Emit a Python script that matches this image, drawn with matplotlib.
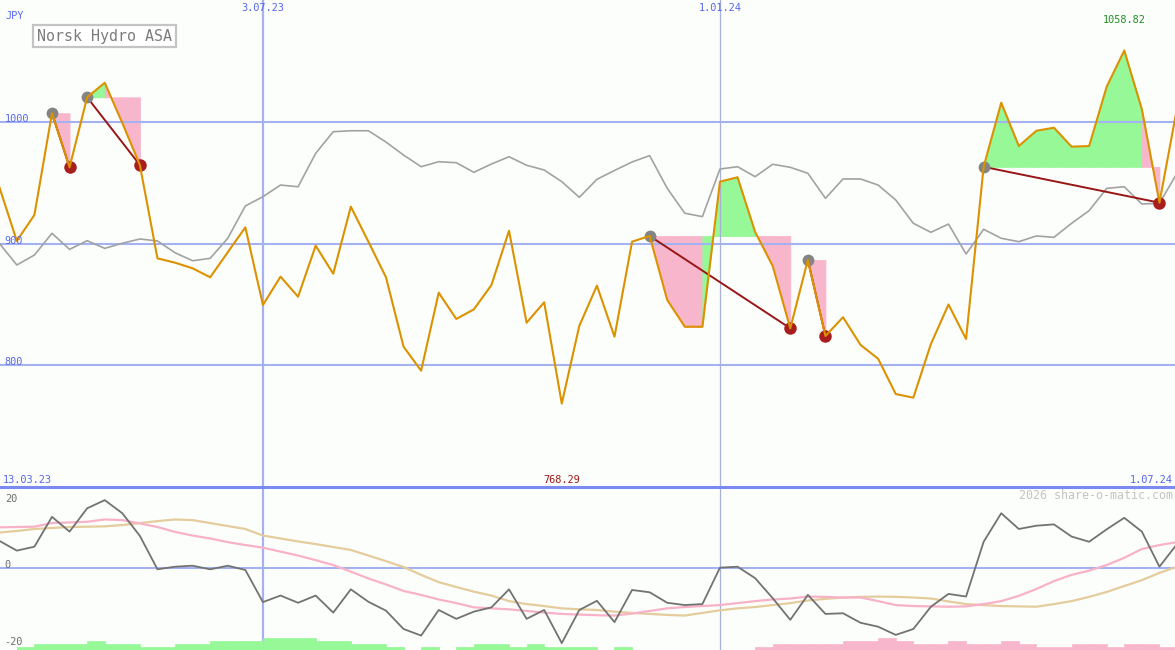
import numpy as np
import pandas as pd
import matplotlib
matplotlib.use('Agg')
import matplotlib.pyplot as plt

## DATA (weekly closes, JPY)

weeks = pd.date_range('2023-03-20', periods=68, freq='7D')

price = [946.7, 902.1, 923.5, 1007.2, 962.7, 1020.3, 1032.3, 999.2, 964.6, 887.8,
		 884.2, 879.6, 872.2, 892.8, 913.3, 849.4, 872.7, 856.2, 898.2, 875.1,
		 930.3, 901.5, 872.2, 815.1, 795.3, 859.5, 837.9, 845.8, 865.8, 910.5,
		 834.8, 851.6, 768.29, 832.3, 865.3, 823.3, 901.5, 906.2, 853.5, 831.5,
		 831.5, 950.9, 954.5, 909.5, 881.5, 830.2, 886.4, 823.9, 839.3, 816.5,
		 805.1, 776.1, 773.1, 817.3, 849.8, 821.4, 963.1, 1015.9, 980.2, 992.8,
		 995.3, 979.7, 980.2, 1029.1, 1058.82, 1010.5, 933.6, 1011.3]

benchmark = [900.2, 882.3, 890.5, 908.4, 895.2, 902.3, 896.0, 900.2, 903.7, 902.1,
			 892.4, 885.8, 887.8, 904.3, 930.9, 938.5, 948.1, 946.7, 974.2, 992.0,
			 992.8, 992.8, 983.5, 972.8, 963.2, 967.3, 966.5, 958.6, 965.4, 971.4,
			 964.4, 960.5, 950.9, 938.0, 952.8, 960.1, 967.1, 972.3, 945.4, 924.9,
			 922.1, 961.3, 963.2, 955.0, 965.2, 962.7, 957.8, 937.2, 953.1, 953.1,
			 948.1, 935.8, 916.6, 909.2, 916.0, 891.4, 911.7, 904.3, 901.5, 906.2,
			 905.1, 916.6, 927.0, 945.4, 946.7, 932.5, 933.1, 957.8]

momentum = [8.2, 5.2, 6.4, 15.5, 11.0, 18.1, 20.6, 16.6, 9.7, -0.5,
			0.3, 0.6, -0.5, 0.6, -0.7, -10.5, -8.5, -10.7, -8.5, -13.7,
			-6.6, -10.4, -13.1, -18.7, -20.7, -12.9, -15.6, -13.4, -12.1, -6.6,
			-15.6, -12.9, -23.0, -12.9, -10.1, -16.6, -6.8, -7.5, -10.7, -11.4,
			-11.1, 0.0, 0.3, -3.2, -9.3, -15.9, -8.3, -14.1, -13.9, -16.8,
			-18.0, -20.5, -18.7, -11.9, -8.0, -8.8, 7.9, 16.6, 11.8, 12.8,
			13.2, 9.5, 7.9, 11.7, 15.2, 11.0, 0.3, 7.2]

avg_fast = [12.3, 12.4, 12.5, 13.6, 13.8, 14.0, 14.7, 14.5, 13.5, 12.4,
			10.9, 9.8, 8.9, 7.8, 6.9, 6.1, 4.9, 3.7, 2.3, 0.8,
			-1.2, -3.3, -5.1, -7.1, -8.3, -9.7, -10.8, -12.1, -12.4, -12.7,
			-13.2, -13.7, -14.1, -14.3, -14.5, -14.6, -14.0, -13.2, -12.4, -12.0,
			-11.7, -11.4, -10.8, -10.2, -9.7, -9.4, -8.8, -8.9, -9.1, -9.1,
			-10.2, -11.4, -11.7, -11.8, -11.9, -11.8, -11.1, -10.2, -8.6, -6.5,
			-4.1, -2.2, -0.9, 0.8, 3.0, 5.7, 6.9, 7.8]

avg_slow = [10.7, 11.2, 11.8, 12.1, 12.4, 12.5, 12.6, 13.0, 13.6, 14.2,
			14.7, 14.5, 13.6, 12.7, 11.8, 9.8, 8.9, 8.0, 7.2, 6.3,
			5.4, 3.7, 2.0, 0.2, -2.2, -4.4, -5.9, -7.3, -8.5, -10.2,
			-11.1, -11.7, -12.4, -12.7, -12.9, -13.4, -13.8, -14.1, -14.4, -14.6,
			-13.8, -13.0, -12.4, -12.0, -11.4, -10.8, -10.0, -9.5, -9.1, -8.9,
			-8.8, -8.9, -9.1, -9.4, -10.3, -11.1, -11.4, -11.7, -11.8, -11.9,
			-11.1, -10.2, -8.9, -7.4, -5.6, -3.8, -1.6, 0.3]

## signed strength blocks at the foot of the lower panel (one per week)
strength = [0, 1, 2, 2, 2, 3, 2, 2, 1, 1,
			2, 2, 3, 3, 3, 4, 4, 4, 3, 3,
			2, 2, 1, 0, 1, 0, 1, 2, 2, 1,
			2, 1, 1, 1, 0, 1, 0, 0, 0, 0,
			0, 0, 0, -1, -2, -2, -2, -2, -3, -3,
			-4, -3, -2, -2, -3, -2, -2, -3, -2, -1,
			-1, -2, -2, -1, -2, -2, -1]

entries = [3, 5, 37, 46, 56]
exits = [4, 8, 45, 47, 66]

price_levels = [800, 900, 1000]
momentum_levels = [-20, 0, 20]
date_marks = ['2023-07-03', '2024-01-01']
date_labels = ['3.07.23', '1.01.24']
first_label, last_label = '13.03.23', '1.07.24'
title = 'Norsk Hydro ASA'
currency = 'JPY'
credit = '2026 share-o-matic.com'

## STYLE

W, H = 1175, 650
BG = '#fcfefc'
GRID = '#a4b2f2'
BLUE_TXT = '#5666ee'
ORANGE = '#dc9200'
GREEN_FILL = '#96f896'
PINK_FILL = '#f8b6cc'
FONT = 'DejaVu Sans Mono'
FS = 7.4
STEP = 0.915


def main() -> None:
	fig = plt.figure(figsize=(W / 100, H / 100), dpi=100)
	fig.patch.set_facecolor(BG)
	split = (H - 487) / H
	ax = fig.add_axes([0, split, 1, 1 - split])
	ax2 = fig.add_axes([0, 0, 1, split], sharex=ax)

	x = weeks
	p = np.array(price)
	t0 = weeks[0]
	xlim = (t0 + pd.Timedelta(days=0.3), t0 + pd.Timedelta(days=468.2))

	for a in (ax, ax2):
		a.set_facecolor(BG)
		a.set_xticks([])
		a.set_yticks([])
		for s in a.spines.values():
			s.set_visible(False)
	ax.set_xlim(*xlim)
	ax.set_ylim(699.6, 1100.4)
	ax2.set_ylim(-25.1, 24.6)
	ax2.spines['top'].set_visible(True)
	ax2.spines['top'].set_color('#7a8af0')
	ax2.spines['top'].set_linewidth(2.2)

	## trades: fill per segment between price and entry level
	for e, q in zip(entries, exits):
		lvl = p[e]
		for k in range(e, q):
			col = GREEN_FILL if p[k + 1] >= lvl else PINK_FILL
			ax.fill_between(x[k:k + 2], p[k:k + 2], lvl, color=col, lw=0.6, ec=col, zorder=1)

	## grid
	for lv in price_levels:
		ax.axhline(lv, color=GRID, lw=1.5, zorder=2)
		ax.text(0.004, lv, str(lv), transform=ax.get_yaxis_transform(), color=BLUE_TXT,
				fontsize=FS, family=FONT, va='baseline', ha='left', zorder=6)
	for a in (ax, ax2):
		a.axvline(pd.Timestamp(date_marks[0]), color=GRID, lw=1.6, zorder=2)
		a.axvline(pd.Timestamp(date_marks[1]), color='#a8b0d8', lw=0.9, zorder=2)
	for d, s in zip(date_marks, date_labels):
		ax.text(pd.Timestamp(d), 1 - 3 / 487, s, transform=ax.get_xaxis_transform(), color=BLUE_TXT,
				fontsize=FS, family=FONT, ha='center', va='top')

	## lines
	ax.plot(x, benchmark, color='#a2a2a2', lw=1.2, zorder=3)
	for e, q in zip(entries, exits):
		ax.plot([x[e], x[q]], [p[e], p[q]], color='#9a1616', lw=1.4, zorder=4)
	ax.plot(x[entries], p[entries], 'o', color='#848484', ms=8.5, mew=0, zorder=4)
	ax.plot(x[exits], p[exits], 'o', color='#a81e1e', ms=9, mew=0, zorder=4)
	ax.plot(x, p, color=ORANGE, lw=1.5, zorder=5)

	## annotations
	lo, hi = int(np.argmin(p)), int(np.argmax(p))
	ax.text(x[lo], 0.004, f'{p[lo]:.2f}', transform=ax.get_xaxis_transform(), color='#a01818',
			fontsize=FS, family=FONT, ha='center', va='bottom')
	ax.text(x[hi], 1 - 15 / 487, f'{p[hi]:.2f}', transform=ax.get_xaxis_transform(), color='#1e901e',
			fontsize=FS, family=FONT, ha='center', va='top')
	ax.text(0.002, 0.004, first_label, transform=ax.transAxes, color=BLUE_TXT,
			fontsize=FS, family=FONT, ha='left', va='bottom')
	ax.text(0.998, 0.004, last_label, transform=ax.transAxes, color=BLUE_TXT,
			fontsize=FS, family=FONT, ha='right', va='bottom')
	ax.text(0.005, 1 - 16 / 487, currency, transform=ax.transAxes, color=BLUE_TXT,
			fontsize=FS, family=FONT, ha='left', va='center')
	ax.text(37 / W, 1 - 36 / 487, title, transform=ax.transAxes, color='#7c7c7c',
			fontsize=10.8, family=FONT, ha='left', va='center',
			bbox=dict(boxstyle='square,pad=0.24', fc='white', ec='#c4c4c4', lw=1.6))

	## lower panel
	ax2.axhline(0, color=GRID, lw=1.5, zorder=2)
	lo2 = ax2.get_ylim()[0]
	for lv in momentum_levels:
		near_edge = lv - lo2 < 8
		ax2.text(0.004, lo2 + 1.0 if near_edge else lv, str(lv), color='#6c6c6c', fontsize=FS,
				 family=FONT, transform=ax2.get_yaxis_transform(),
				 va='bottom' if near_edge else 'baseline', ha='left', zorder=6)
	ax2.plot(x, avg_slow, color='#e4cc9c', lw=1.6, zorder=3)
	ax2.plot(x, avg_fast, color='#f8b2c8', lw=1.6, zorder=3)
	ax2.plot(x, momentum, color='#727272', lw=1.3, zorder=4)
	st = np.array(strength)
	cols = [GREEN_FILL if v > 0 else PINK_FILL for v in st]
	ax2.bar(x[:len(st)], np.abs(st) * STEP, bottom=lo2, width=7, align='edge',
			color=cols, ec=cols, lw=0.5, zorder=5)
	ax2.text(0.998, 0.985, credit, transform=ax2.transAxes, color='#c4c4c4',
			 fontsize=8.4, family=FONT, ha='right', va='top')

	fig.savefig('out.png', dpi=100, facecolor=BG)


if __name__ == '__main__':
	main()
